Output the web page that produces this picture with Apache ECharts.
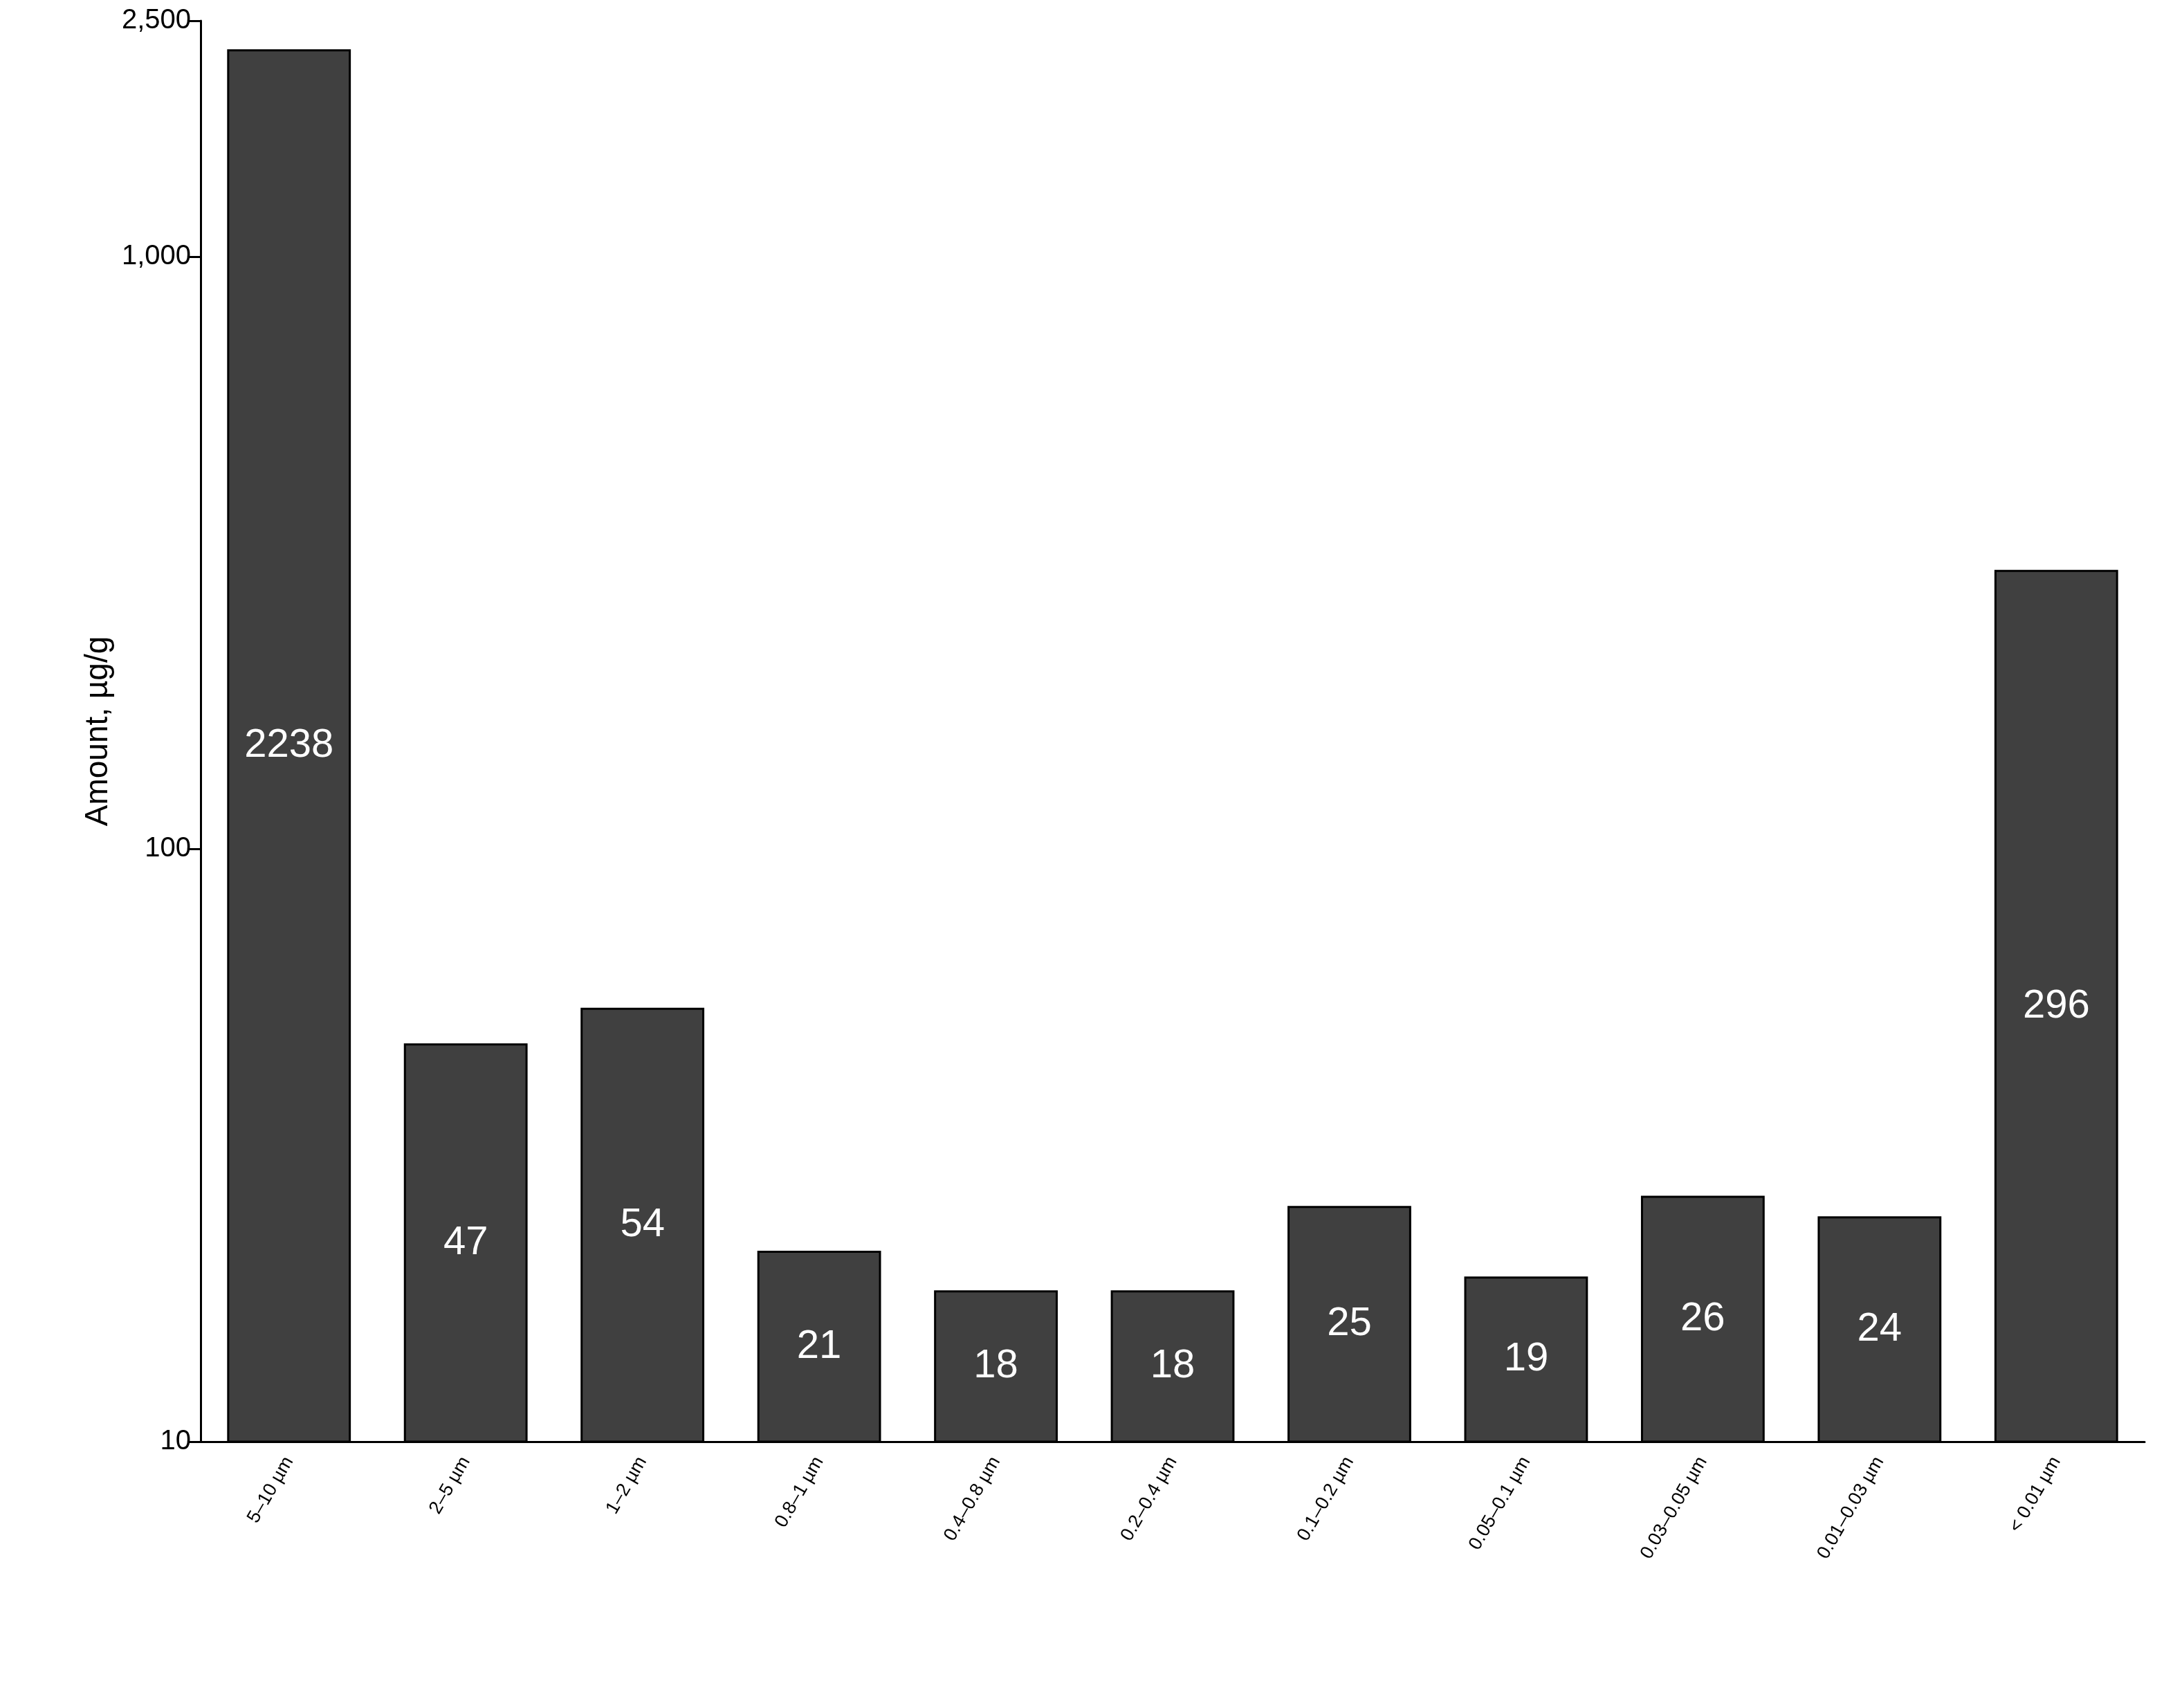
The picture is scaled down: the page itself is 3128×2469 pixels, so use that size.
<!DOCTYPE html>
<html>
<head>
<meta charset="utf-8">
<script src="https://cdn.jsdelivr.net/npm/echarts@6/dist/echarts.min.js"></script>
<style>html,body{margin:0;padding:0;background:#fff}#chart{width:3128px;height:2469px}</style>
</head>
<body>
<div id="chart"></div>
<script>
const categories = ["5–10 µm", "2–5 µm", "1–2 µm", "0.8–1 µm", "0.4–0.8 µm", "0.2–0.4 µm",
  "0.1–0.2 µm", "0.05–0.1 µm", "0.03–0.05 µm", "0.01–0.03 µm", "< 0.01 µm"];
const amounts = [2238, 47, 54, 21, 18, 18, 25, 19, 26, 24, 296];

const chart = echarts.init(document.getElementById("chart"));
chart.setOption({
  animation: false,
  grid: { left: 290, right: 28, top: 30, bottom: 385 },
  xAxis: {
    type: "category",
    data: categories,
    axisLine: { lineStyle: { color: "#000", width: 3 } },
    axisTick: { alignWithLabel: true, length: 14, lineStyle: { color: "#000", width: 3 } },
    axisLabel: { rotate: 60, fontSize: 27, color: "#000", fontFamily: "Liberation Sans", margin: 24 }
  },
  yAxis: {
    type: "log",
    logBase: 10,
    min: 10,
    max: 2500,
    name: "Amount, µg/g",
    nameLocation: "middle",
    nameGap: 105,
    nameTextStyle: { fontSize: 46, color: "#000", fontFamily: "Liberation Sans" },
    splitLine: { show: false },
    axisLine: { show: true, lineStyle: { color: "#000", width: 3 } },
    axisTick: { show: true, length: 16, lineStyle: { color: "#000", width: 3 } },
    axisLabel: { fontSize: 40, color: "#000", fontFamily: "Liberation Sans", margin: 14 }
  },
  series: [{
    type: "bar",
    data: amounts,
    barWidth: "70%",
    itemStyle: { color: "#404040", borderColor: "#000", borderWidth: 3 },
    label: { show: true, position: "inside", color: "#fff", fontSize: 58, fontFamily: "Liberation Sans" }
  }]
});
</script>
</body>
</html>
